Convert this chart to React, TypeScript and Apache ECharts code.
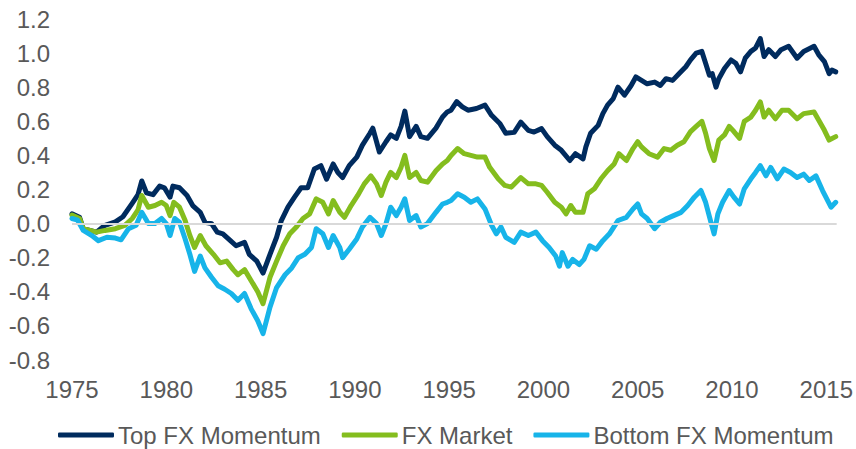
import React, { useEffect, useRef } from "react";
import * as echarts from "echarts";

const seriesNames = ["Top FX Momentum", "FX Market", "Bottom FX Momentum"];
const yTicks = { min: -0.8, max: 1.2, step: 0.2 };
const xTicks = { min: 1975, max: 2015.55, step: 5 };

const topFx: [number, number][] = [
  [1975.0, 0.057], [1975.4, 0.037], [1975.6, -0.03], [1976.3, -0.05], [1976.75, -0.01],
  [1977.3, 0.01], [1977.7, 0.04], [1978.2, 0.12], [1978.5, 0.17], [1978.7, 0.25],
  [1978.95, 0.18], [1979.3, 0.17], [1979.65, 0.22], [1979.9, 0.21], [1980.2, 0.155],
  [1980.35, 0.22], [1980.7, 0.21], [1981.1, 0.165], [1981.4, 0.106], [1981.8, 0.066],
  [1982.05, 0.008], [1982.4, 0.0], [1982.7, -0.05], [1983.0, -0.06], [1983.4, -0.1],
  [1983.7, -0.13], [1984.15, -0.11], [1984.4, -0.18], [1984.8, -0.22], [1985.13, -0.29],
  [1985.5, -0.18], [1985.85, -0.08], [1986.1, 0.018], [1986.45, 0.096], [1986.8, 0.155],
  [1987.15, 0.21], [1987.5, 0.21], [1987.85, 0.32], [1988.2, 0.34], [1988.5, 0.26],
  [1988.85, 0.35], [1989.1, 0.3], [1989.35, 0.27], [1989.7, 0.34], [1990.1, 0.39],
  [1990.4, 0.46], [1990.8, 0.53], [1990.95, 0.56], [1991.3, 0.42], [1991.65, 0.48],
  [1991.9, 0.52], [1992.2, 0.5], [1992.45, 0.57], [1992.65, 0.66], [1992.9, 0.51],
  [1993.25, 0.57], [1993.5, 0.51], [1993.85, 0.5], [1994.3, 0.56], [1994.65, 0.625],
  [1994.9, 0.655], [1995.1, 0.665], [1995.4, 0.715], [1995.7, 0.685], [1996.0, 0.665],
  [1996.45, 0.675], [1996.9, 0.695], [1997.25, 0.635], [1997.7, 0.585], [1998.0, 0.53],
  [1998.45, 0.535], [1998.8, 0.595], [1999.2, 0.547], [1999.5, 0.537], [1999.9, 0.557],
  [2000.2, 0.51], [2000.6, 0.46], [2000.95, 0.43], [2001.4, 0.37], [2001.7, 0.41],
  [2002.1, 0.38], [2002.25, 0.45], [2002.5, 0.53], [2002.9, 0.576], [2003.15, 0.645],
  [2003.4, 0.695], [2003.7, 0.733], [2003.95, 0.8], [2004.3, 0.753], [2004.65, 0.81],
  [2004.9, 0.86], [2005.2, 0.84], [2005.5, 0.82], [2005.9, 0.83], [2006.2, 0.81],
  [2006.5, 0.85], [2006.85, 0.84], [2007.2, 0.88], [2007.55, 0.92], [2007.8, 0.96],
  [2008.1, 1.0], [2008.4, 1.01], [2008.6, 0.94], [2008.8, 0.87], [2008.95, 0.88],
  [2009.15, 0.8], [2009.3, 0.85], [2009.6, 0.91], [2009.95, 0.96], [2010.2, 0.94],
  [2010.45, 0.89], [2010.7, 0.97], [2011.0, 1.01], [2011.25, 1.03], [2011.5, 1.085],
  [2011.7, 0.98], [2011.95, 1.02], [2012.3, 0.98], [2012.6, 1.02], [2013.0, 1.04],
  [2013.45, 0.97], [2013.8, 1.01], [2014.35, 1.04], [2014.6, 0.99], [2014.9, 0.95],
  [2015.15, 0.88], [2015.3, 0.9], [2015.5, 0.89],
];

const fxMarket: [number, number][] = [
  [1975.0, 0.05], [1975.4, 0.03], [1975.6, -0.03], [1976.3, -0.05], [1976.75, -0.04],
  [1977.3, -0.03], [1977.8, -0.01], [1978.2, 0.03], [1978.5, 0.08], [1978.7, 0.165],
  [1979.05, 0.096], [1979.4, 0.106], [1979.75, 0.125], [1980.0, 0.106], [1980.2, 0.047],
  [1980.4, 0.125], [1980.7, 0.096], [1981.0, 0.018], [1981.25, -0.07], [1981.5, -0.14],
  [1981.8, -0.07], [1982.1, -0.13], [1982.5, -0.18], [1982.85, -0.23], [1983.2, -0.22],
  [1983.55, -0.27], [1983.8, -0.3], [1984.15, -0.27], [1984.5, -0.335], [1984.85, -0.4],
  [1985.13, -0.47], [1985.5, -0.315], [1985.85, -0.22], [1986.2, -0.13], [1986.55, -0.06],
  [1986.9, -0.02], [1987.25, 0.03], [1987.6, 0.057], [1987.95, 0.145], [1988.3, 0.125],
  [1988.6, 0.057], [1988.85, 0.135], [1989.2, 0.066], [1989.45, 0.037], [1989.8, 0.106],
  [1990.15, 0.165], [1990.5, 0.233], [1990.85, 0.28], [1991.15, 0.233], [1991.4, 0.165],
  [1991.65, 0.243], [1991.9, 0.3], [1992.2, 0.27], [1992.45, 0.33], [1992.65, 0.4],
  [1992.9, 0.27], [1993.25, 0.3], [1993.5, 0.253], [1993.85, 0.243], [1994.3, 0.31],
  [1994.65, 0.35], [1994.9, 0.37], [1995.1, 0.4], [1995.45, 0.44], [1995.8, 0.41],
  [1996.15, 0.4], [1996.5, 0.39], [1996.9, 0.39], [1997.15, 0.33], [1997.6, 0.263],
  [1997.95, 0.224], [1998.3, 0.214], [1998.8, 0.27], [1999.2, 0.233], [1999.6, 0.233],
  [1999.9, 0.224], [2000.2, 0.184], [2000.6, 0.125], [2000.95, 0.096], [2001.2, 0.057],
  [2001.45, 0.106], [2001.7, 0.066], [2002.1, 0.066], [2002.35, 0.175], [2002.7, 0.204],
  [2003.05, 0.263], [2003.4, 0.31], [2003.75, 0.35], [2004.0, 0.41], [2004.4, 0.37],
  [2004.75, 0.44], [2005.0, 0.48], [2005.2, 0.45], [2005.6, 0.41], [2006.05, 0.39],
  [2006.4, 0.44], [2006.75, 0.43], [2007.1, 0.46], [2007.45, 0.48], [2007.8, 0.54],
  [2008.1, 0.57], [2008.4, 0.6], [2008.6, 0.53], [2008.8, 0.44], [2009.05, 0.37],
  [2009.3, 0.49], [2009.6, 0.52], [2009.85, 0.57], [2010.1, 0.54], [2010.4, 0.5],
  [2010.65, 0.6], [2011.0, 0.625], [2011.25, 0.665], [2011.5, 0.714], [2011.7, 0.625],
  [2011.95, 0.665], [2012.3, 0.615], [2012.65, 0.665], [2013.0, 0.665], [2013.45, 0.615],
  [2013.8, 0.645], [2014.35, 0.655], [2014.6, 0.606], [2014.9, 0.547], [2015.15, 0.49],
  [2015.5, 0.51],
];

const bottomFx: [number, number][] = [
  [1975.0, 0.03], [1975.3, 0.02], [1975.6, -0.04], [1976.05, -0.07], [1976.4, -0.1],
  [1976.85, -0.08], [1977.3, -0.085], [1977.6, -0.095], [1978.0, -0.03], [1978.4, -0.01],
  [1978.7, 0.066], [1979.05, 0.0], [1979.4, 0.0], [1979.75, 0.03], [1980.0, 0.0],
  [1980.2, -0.07], [1980.45, 0.03], [1980.7, 0.008], [1981.0, -0.09], [1981.25, -0.18],
  [1981.5, -0.28], [1981.8, -0.19], [1982.05, -0.26], [1982.4, -0.315], [1982.75, -0.365],
  [1983.1, -0.385], [1983.45, -0.41], [1983.8, -0.45], [1984.15, -0.41], [1984.5, -0.5],
  [1984.85, -0.57], [1985.13, -0.645], [1985.5, -0.49], [1985.85, -0.375], [1986.3, -0.3],
  [1986.65, -0.26], [1987.0, -0.2], [1987.35, -0.18], [1987.7, -0.14], [1987.95, -0.03],
  [1988.3, -0.06], [1988.6, -0.14], [1988.85, -0.07], [1989.2, -0.14], [1989.35, -0.2],
  [1989.7, -0.15], [1990.1, -0.09], [1990.4, -0.02], [1990.8, 0.037], [1991.15, 0.0],
  [1991.4, -0.07], [1991.65, 0.0], [1991.9, 0.096], [1992.2, 0.047], [1992.45, 0.096],
  [1992.65, 0.145], [1992.9, 0.018], [1993.25, 0.047], [1993.5, -0.02], [1993.85, 0.0],
  [1994.3, 0.066], [1994.65, 0.115], [1994.9, 0.125], [1995.1, 0.135], [1995.45, 0.175],
  [1995.8, 0.155], [1996.15, 0.125], [1996.5, 0.145], [1996.9, 0.086], [1997.25, -0.01],
  [1997.5, -0.06], [1997.75, -0.02], [1998.0, -0.08], [1998.45, -0.11], [1998.8, -0.05],
  [1999.2, -0.07], [1999.6, -0.05], [1999.95, -0.1], [2000.3, -0.14], [2000.65, -0.19],
  [2000.85, -0.25], [2001.0, -0.17], [2001.3, -0.25], [2001.55, -0.21], [2001.9, -0.24],
  [2002.15, -0.21], [2002.45, -0.13], [2002.8, -0.15], [2003.15, -0.1], [2003.5, -0.06],
  [2003.95, 0.018], [2004.4, 0.037], [2004.75, 0.086], [2005.0, 0.115], [2005.2, 0.057],
  [2005.5, 0.03], [2005.9, -0.03], [2006.2, 0.008], [2006.55, 0.03], [2006.9, 0.047],
  [2007.3, 0.066], [2007.65, 0.106], [2008.0, 0.155], [2008.35, 0.194], [2008.6, 0.125],
  [2008.9, 0.0], [2009.05, -0.06], [2009.25, 0.057], [2009.5, 0.125], [2009.85, 0.194],
  [2010.1, 0.155], [2010.4, 0.115], [2010.65, 0.204], [2011.0, 0.263], [2011.25, 0.3],
  [2011.5, 0.34], [2011.8, 0.28], [2012.05, 0.33], [2012.4, 0.263], [2012.75, 0.32],
  [2013.1, 0.3], [2013.45, 0.27], [2013.8, 0.29], [2014.1, 0.253], [2014.45, 0.28],
  [2014.8, 0.194], [2015.25, 0.096], [2015.5, 0.125],
];

const colors = ["#002B5E", "#84BD1E", "#17B4E9"];
const font = "'Liberation Sans', Arial, sans-serif";

export default function App() {
  const ref = useRef<HTMLDivElement>(null);
  useEffect(() => {
    if (!ref.current) return;
    const chart = echarts.init(ref.current, null, { renderer: "svg" });
    const data = [topFx, fxMarket, bottomFx];
    chart.setOption({
      animation: false,
      backgroundColor: "#ffffff",
      grid: { left: 72, right: 19, top: 19, height: 341 },
      xAxis: {
        type: "value",
        min: xTicks.min,
        max: xTicks.max,
        interval: xTicks.step,
        axisLine: { show: false, onZero: false },
        axisTick: { show: false },
        splitLine: { show: false },
        axisLabel: {
          color: "#595959",
          fontSize: 24,
          fontFamily: font,
          margin: 17,
          showMaxLabel: false,
          formatter: (v: number) => (v % 5 === 0 ? String(v) : ""),
        },
      },
      yAxis: {
        type: "value",
        min: yTicks.min,
        max: yTicks.max,
        interval: yTicks.step,
        axisLine: { show: false },
        axisTick: { show: false },
        splitLine: { show: false },
        axisLabel: {
          color: "#595959",
          fontSize: 24,
          fontFamily: font,
          margin: 22,
          formatter: (v: number) => v.toFixed(1),
        },
      },
      legend: {
        left: 58,
        top: 423,
        padding: 0,
        icon: "roundRect",
        itemWidth: 56,
        itemHeight: 5,
        itemGap: 21,
        textStyle: { color: "#595959", fontSize: 24, fontFamily: font, padding: [0, 0, 0, -1] },
        data: seriesNames,
      },
      series: [
        {
          type: "line",
          name: "zero",
          data: [],
          silent: true,
          z: 1,
          markLine: {
            silent: true,
            symbol: "none",
            label: { show: false },
            lineStyle: { color: "#D9D9D9", width: 2, type: "solid" },
            data: [{ yAxis: 0 }],
          },
        },
        ...seriesNames.map((name, i) => ({
          type: "line",
          name,
          data: data[i],
          showSymbol: false,
          smooth: false,
          z: 2 + i,
          lineStyle: { color: colors[i], width: 5, join: "round", cap: "round" },
          itemStyle: { color: colors[i] },
        })),
      ],
    });
    return () => chart.dispose();
  }, []);
  return (
    <div
      ref={ref}
      style={{ position: "fixed", left: 0, top: 0, width: 856, height: 449, background: "#fff" }}
    />
  );
}
